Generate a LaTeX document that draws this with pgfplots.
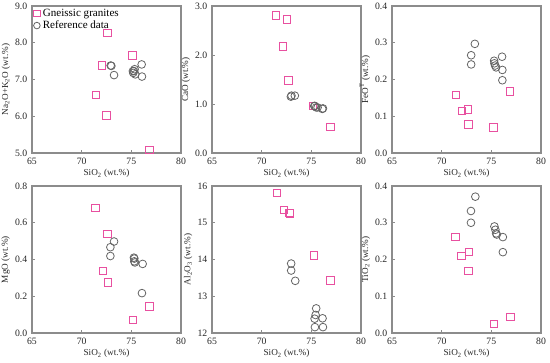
\documentclass[border=0pt]{standalone}
\usepackage{fontspec}
\setmainfont{Liberation Serif}
\usepackage{pgfplots}
\pgfplotsset{compat=1.18}
\definecolor{sqc}{RGB}{232,80,160}
\definecolor{cic}{RGB}{100,100,100}
\definecolor{axc}{RGB}{140,140,140}
\newcommand{\ux}{0.75pt}
\pgfplotsset{
  myax/.style={
    scale only axis, width=149*\ux, height=147*\ux,
    xmin=65, xmax=80, xtick={65,70,75,80},
    axis line style={axc, line width=1.1pt},
    tick style={axc, line width=0.6pt},
    major tick length=2pt,
    tick align=inside, xtick pos=bottom, ytick pos=left,
    font=\fontsize{7.2}{8.5}\selectfont,
    ticklabel style={font=\fontsize{7.3}{8.5}\selectfont, text=black!85},
    label style={font=\fontsize{6.9}{8}\selectfont, text=black!85},
    /pgf/number format/assume math mode=true,
    xlabel={SiO\textsubscript{2} (wt.\%)},
    xlabel style={yshift=3pt},
    ylabel style={yshift=-3pt},
    yticklabel style={/pgf/number format/.cd, fixed, fixed zerofill, precision=1},
    clip=false,
  },
  sq/.style={only marks, color=sqc, mark=square, mark size=2.8pt, mark options={draw=sqc, line width=0.75pt, fill=none}},
  ci/.style={only marks, color=cic, mark=o, mark size=2.9pt, mark options={draw=cic, line width=0.6pt, fill=none}},
}
\begin{document}
\begin{tikzpicture}
\useasboundingbox (0,0) rectangle (550*\ux, 362*\ux);
% Panel 1
\begin{axis}[myax, at={(32*\ux,209*\ux)}, anchor=south west,
  ymin=5, ymax=9, ytick={5,6,7,8,9},
  ylabel={Na\textsubscript{2}O+K\textsubscript{2}O (wt.\%)},
  legend style={at={(rel axis cs:0,1)}, anchor=north west, draw=none, fill=none,
    font=\fontsize{8.3}{9}\selectfont, inner sep=1pt, row sep=-2.2pt,
    legend cell align=left, xshift=0pt, yshift=1pt,
    /tikz/every even column/.append style={column sep=0pt}},
  legend image post style={scale=0.85}]
\addplot[sq] coordinates {(71.43,6.58) (72.59,8.26) (72.04,7.38) (72.48,6.02) (75.12,7.65) (76.82,5.08)};
\addplot[ci] coordinates {(72.92,7.38) (72.99,7.37) (73.26,7.12) (75.26,7.23) (75.33,7.28) (75.19,7.18) (75.40,7.14) (76.04,7.41) (76.07,7.08) (75.16,7.23)};
\legend{Gneissic granites, Reference data}
\end{axis}
% Panel 2
\begin{axis}[myax, at={(212*\ux,209*\ux)}, anchor=south west,
  ymin=0, ymax=3, ytick={0,1,2,3},
  ylabel={CaO (wt.\%)}]
\addplot[sq] coordinates {(71.42,2.81) (72.57,2.72) (72.13,2.17) (72.70,1.48) (75.19,0.96) (76.91,0.53)};
\addplot[ci] coordinates {(72.94,1.15) (73.00,1.17) (73.34,1.17) (75.29,0.96) (75.36,0.96) (75.49,0.93) (75.63,0.93) (76.17,0.91) (76.10,0.90)};
\end{axis}
% Panel 3
\begin{axis}[myax, at={(392*\ux,209*\ux)}, anchor=south west,
  ymin=0, ymax=0.4, ytick={0,0.1,0.2,0.3,0.4},
  ylabel={FeO\textsuperscript{T} (wt.\%)}]
\addplot[sq] coordinates {(71.46,0.158) (72.06,0.115) (72.63,0.119) (72.70,0.077) (75.24,0.070) (76.88,0.167)};
\addplot[ci] coordinates {(73.34,0.297) (72.97,0.266) (72.97,0.241) (75.28,0.251) (75.31,0.244) (75.38,0.238) (75.48,0.233) (76.08,0.262) (76.11,0.226) (76.11,0.198)};
\end{axis}
% Panel 4
\begin{axis}[myax, at={(32*\ux,29*\ux)}, anchor=south west,
  ymin=0, ymax=0.8, ytick={0,0.2,0.4,0.6,0.8},
  ylabel={MgO (wt.\%)}]
\addplot[sq] coordinates {(71.37,0.679) (72.59,0.540) (72.15,0.338) (72.65,0.276) (75.16,0.072) (76.85,0.144)};
\addplot[ci] coordinates {(73.26,0.498) (72.89,0.467) (72.89,0.419) (75.26,0.410) (75.30,0.405) (75.30,0.390) (75.36,0.384) (76.14,0.376) (76.07,0.217)};
\end{axis}
% Panel 5
\begin{axis}[myax, at={(212*\ux,29*\ux)}, anchor=south west,
  ymin=12, ymax=16, ytick={12,13,14,15,16},
  yticklabel style={/pgf/number format/.cd, fixed, precision=0},
  ylabel={Al\textsubscript{2}O\textsubscript{3} (wt.\%)}]
\addplot[sq] coordinates {(71.53,15.81) (72.27,15.34) (72.80,15.27) (72.84,15.25) (75.29,14.11) (76.91,13.43)};
\addplot[ci] coordinates {(72.97,13.89) (72.97,13.70) (73.38,13.42) (75.49,12.67) (75.43,12.49) (75.33,12.39) (76.13,12.40) (75.36,12.16) (76.17,12.16)};
\end{axis}
% Panel 6
\begin{axis}[myax, at={(392*\ux,29*\ux)}, anchor=south west,
  ymin=0, ymax=0.4, ytick={0,0.1,0.2,0.3,0.4},
  ylabel={TiO\textsubscript{2} (wt.\%)}]
\addplot[sq] coordinates {(71.40,0.261) (72.01,0.209) (72.75,0.220) (72.68,0.168) (75.28,0.024) (76.93,0.044)};
\addplot[ci] coordinates {(73.39,0.371) (72.95,0.332) (72.95,0.300) (75.31,0.290) (75.41,0.281) (75.48,0.271) (75.55,0.268) (76.16,0.261) (76.16,0.220)};
\end{axis}
\end{tikzpicture}
\end{document}
